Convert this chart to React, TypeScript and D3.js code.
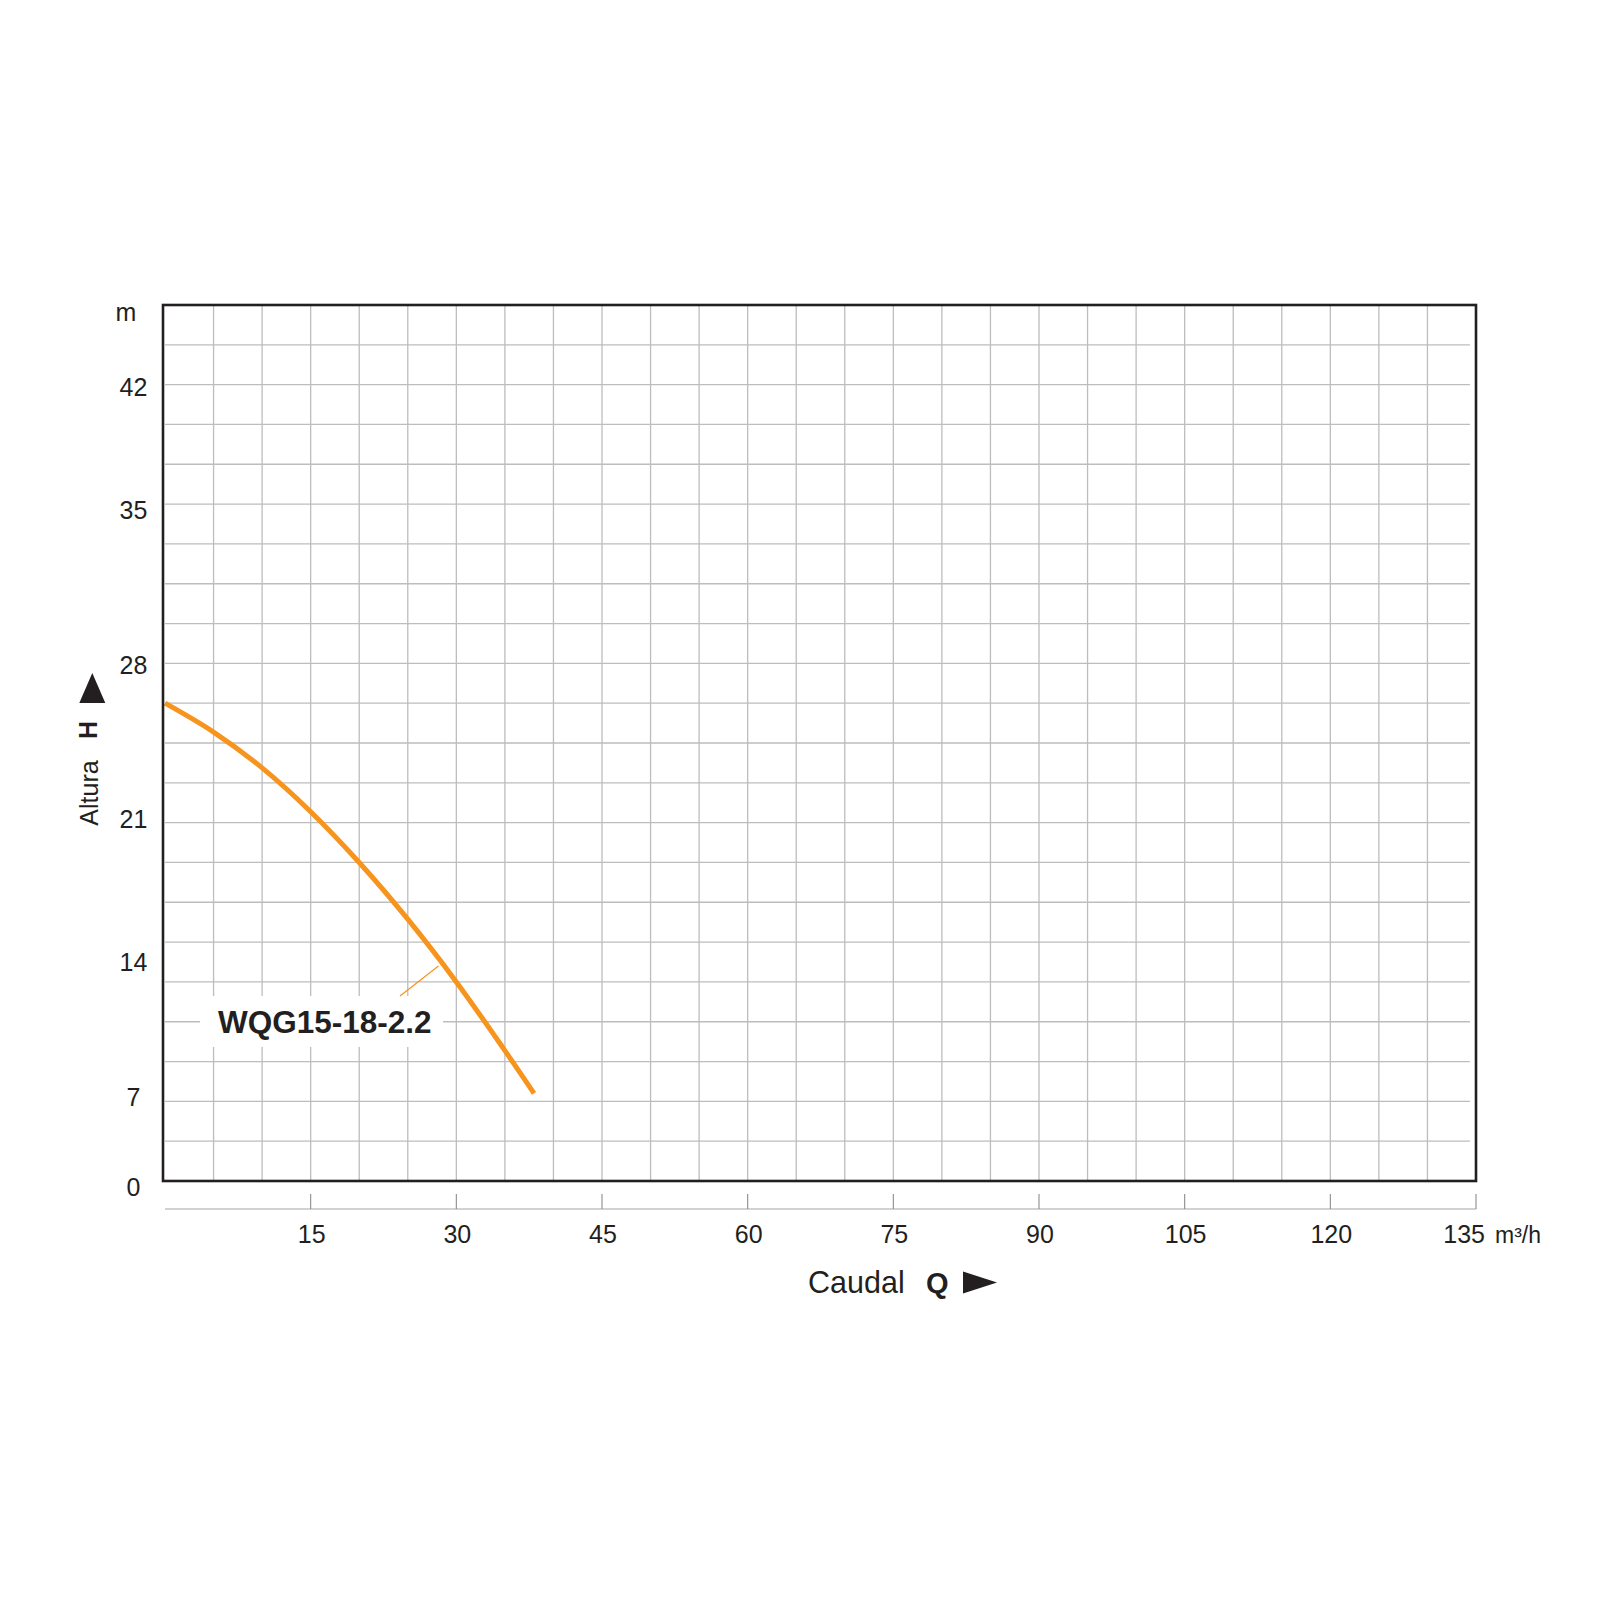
import React from 'react';
import * as d3 from 'd3';

// pump curve WQG15-18-2.2, flow in m3/h and head in m
const flowValues = [0, 5, 10, 15, 20, 25, 30, 35, 38];
const headValues = [24, 22.55, 20.75, 18.55, 16.0, 13.15, 10.0, 6.55, 4.4];

const flowTicks = [15, 30, 45, 60, 75, 90, 105, 120, 135];
const headTickLabels = ['0', '7', '14', '21', '28', '35', '42'];
// where the printed head labels actually sit on the grid (in m)
const headTickAt = [-0.3, 4.2, 11, 18.2, 25.9, 33.7, 39.9];

const seriesName = 'WQG15-18-2.2';

const FONT = '"Liberation Sans", Arial, Helvetica, sans-serif';
const INK = '#231f20';
const ORANGE = '#f7941d';

function App() {
  const left = 163, right = 1476, top = 305, bottom = 1181;

  const x = d3.scaleLinear().domain([0, 135]).range([165, right]);
  const y = d3.scaleLinear().domain([0, 44]).range([bottom, top]);

  const vGrid = d3.range(5, 135, 5);
  const hGrid = d3.range(2, 44, 2);

  const line = d3.line<number>()
    .x((_, i) => x(flowValues[i]))
    .y(d => y(d))
    .curve(d3.curveCatmullRom);

  const axisY = 1209;
  const last = flowTicks[flowTicks.length - 1];

  return (
    <svg width={1600} height={1600} style={{position: 'absolute', left: 0, top: 0, background: '#fff'}}
      fontFamily={FONT}>
      <rect x={0} y={0} width={1600} height={1600} fill="#fff"/>

      {/* grid */}
      <g stroke="#bdbdbd" strokeWidth={1.3}>
        {vGrid.map(v => (
          <line key={'v' + v} x1={x(v)} x2={x(v)} y1={top} y2={bottom}/>
        ))}
        {hGrid.map(h => (
          <line key={'h' + h} x1={left + 2} x2={right - 6} y1={y(h)} y2={y(h)}/>
        ))}
      </g>

      {/* label backdrop and leader */}
      <rect x={200} y={996} width={243} height={51} fill="#fff"/>
      <line x1={400} y1={996} x2={438.5} y2={966} stroke={ORANGE} strokeWidth={1.2}/>

      <path d={line(headValues) || ''} fill="none" stroke={ORANGE} strokeWidth={5}/>

      <text x={218} y={1032.5} fontSize={31.5} fontWeight="bold" fill={INK}>{seriesName}</text>

      {/* frame */}
      <rect x={left} y={top} width={right - left} height={bottom - top}
        fill="none" stroke={INK} strokeWidth={2.6}/>

      {/* y labels */}
      <g fontSize={25} fill={INK} textAnchor="middle">
        {headTickLabels.map((t, i) => (
          <text key={t} x={133.5} y={y(headTickAt[i])} dy="0.36em">{t}</text>
        ))}
        <text x={126} y={320.5}>m</text>
      </g>

      {/* bottom flow axis */}
      <line x1={165} x2={right} y1={axisY} y2={axisY} stroke="#a6a6a6" strokeWidth={1.2}/>
      <g stroke="#8c8c8c" strokeWidth={1.1}>
        {flowTicks.map(t => (
          <line key={t} x1={x(t)} x2={x(t)} y1={axisY - 15} y2={axisY}/>
        ))}
      </g>
      <g fontSize={25} fill={INK}>
        {flowTicks.map(t => t === last ? (
          <text key={t} x={x(t) + 9} y={1243} textAnchor="end">{t}</text>
        ) : (
          <text key={t} x={x(t) + 1} y={1243} textAnchor="middle">{t}</text>
        ))}
        <text x={1495} y={1243} fontSize={23}>m³/h</text>
      </g>

      {/* axis titles */}
      <text x={808} y={1293} fontSize={30.5} fill={INK}>Caudal</text>
      <text x={926} y={1293} fontSize={29} fontWeight="bold" fill={INK}>Q</text>
      <polygon points="963,1271.5 963,1293.5 997,1282.5" fill={INK}/>

      <g transform="translate(98,793) rotate(-90)">
        <text x={0} y={0} fontSize={25} fill={INK} textAnchor="middle">Altura</text>
      </g>
      <g transform="translate(97,730) rotate(-90)">
        <text x={0} y={0} fontSize={25} fontWeight="bold" fill={INK} textAnchor="middle">H</text>
      </g>
      <polygon points="92.3,673 79.3,703 105.3,703" fill={INK}/>
    </svg>
  );
}

export default App;
